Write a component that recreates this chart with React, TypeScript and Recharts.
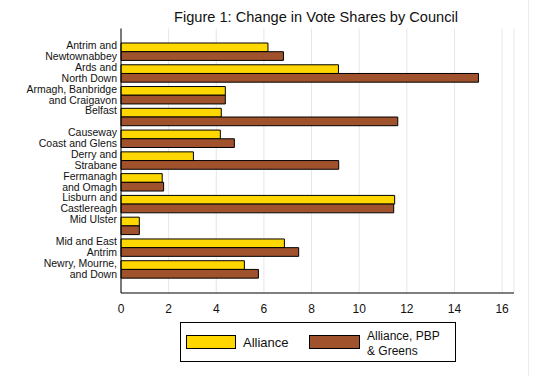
import React from "react";
import { BarChart, Bar, XAxis, YAxis, CartesianGrid, Customized } from "recharts";

const categories = [
  "Antrim and\nNewtownabbey",
  "Ards and\nNorth Down",
  "Armagh, Banbridge\nand Craigavon",
  "Belfast",
  "Causeway\nCoast and Glens",
  "Derry and\nStrabane",
  "Fermanagh\nand Omagh",
  "Lisburn and\nCastlereagh",
  "Mid Ulster",
  "Mid and East\nAntrim",
  "Newry, Mourne,\nand Down",
];
const alliance = [6.17, 9.13, 4.38, 4.21, 4.17, 3.04, 1.73, 11.49, 0.77, 6.86, 5.18];
const combined = [6.82, 15.01, 4.38, 11.62, 4.76, 9.14, 1.79, 11.45, 0.77, 7.46, 5.77];
const xTicks = [0, 2, 4, 6, 8, 10, 12, 14, 16];
const seriesNames = ["Alliance", "Alliance, PBP\n& Greens"];
const title = "Figure 1: Change in Vote Shares by Council";

const data = categories.map((c, i) => ({ name: c, a: alliance[i], b: combined[i] }));

const FONT = "'Liberation Sans', Arial, sans-serif";
const YELLOW = "#FFD700";
const BROWN = "#A0522D";

const YTick = (props: any) => {
  const { y, payload } = props;
  const lines = String(payload.value).split("\n");
  return (
    <text
      x={117}
      y={y - 6.5}
      textAnchor="end"
      fontSize={10.5}
      fontFamily={FONT}
      fill="#111"
    >
      {lines.map((l, i) => (
        <tspan key={i} x={117} dy={i === 0 ? "0.35em" : 11}>
          {l}
        </tspan>
      ))}
    </text>
  );
};

const XTick = (props: any) => {
  const { x, payload } = props;
  return (
    <text x={x} y={313} textAnchor="middle" fontSize={12} fontFamily={FONT} fill="#111">
      {payload.value}
    </text>
  );
};

const Extras = () => {
  const nm2 = seriesNames[1].split("\n");
  return (
    <g fontFamily={FONT}>
      <line x1={528.5} y1={0} x2={528.5} y2={376} stroke="#ececec" strokeWidth={1} />
      <text x={316} y={22} textAnchor="middle" fontSize={14.6} fill="#111">
        {title}
      </text>
      <rect x={180.5} y={322.5} width={275} height={39} fill="#fff" stroke="#000" strokeWidth={1} />
      <rect x={186.5} y={335.5} width={49} height={13} fill={YELLOW} stroke="#000" strokeWidth={1} />
      <text x={243} y={342} dy="0.35em" fontSize={13} fill="#111">
        {seriesNames[0]}
      </text>
      <rect x={309.5} y={335.5} width={50} height={13} fill={BROWN} stroke="#000" strokeWidth={1} />
      <text x={367} y={336} dy="0.35em" fontSize={12} fill="#111">
        {nm2[0]}
      </text>
      <text x={367} y={350.5} dy="0.35em" fontSize={12} fill="#111">
        {nm2[1]}
      </text>
    </g>
  );
};

export default function App() {
  return (
    <div style={{ position: "absolute", left: 0, top: 0, width: 560, height: 376, background: "#fff" }}>
      <BarChart
        width={560}
        height={376}
        data={data}
        layout="vertical"
        margin={{ top: 28.5, right: 46, bottom: 53, left: 0 }}
        barGap={0}
      >
        <CartesianGrid horizontal={false} vertical={true} stroke="#e6e6e6" />
        <XAxis
          type="number"
          domain={[0, 16.5]}
          ticks={xTicks}
          axisLine={{ stroke: "#000" }}
          tickLine={false}
          tick={<XTick />}
          height={30}
          interval={0}
        />
        <YAxis
          type="category"
          dataKey="name"
          width={121}
          axisLine={{ stroke: "#000" }}
          tickLine={false}
          tick={<YTick />}
          interval={0}
          padding={{ top: 12.5, bottom: 12.5 }}
        />
        <Bar dataKey="a" fill={YELLOW} stroke="#000" strokeWidth={1} barSize={8.7} isAnimationActive={false} />
        <Bar dataKey="b" fill={BROWN} stroke="#000" strokeWidth={1} barSize={8.7} isAnimationActive={false} />
        <Customized component={Extras} />
      </BarChart>
    </div>
  );
}
